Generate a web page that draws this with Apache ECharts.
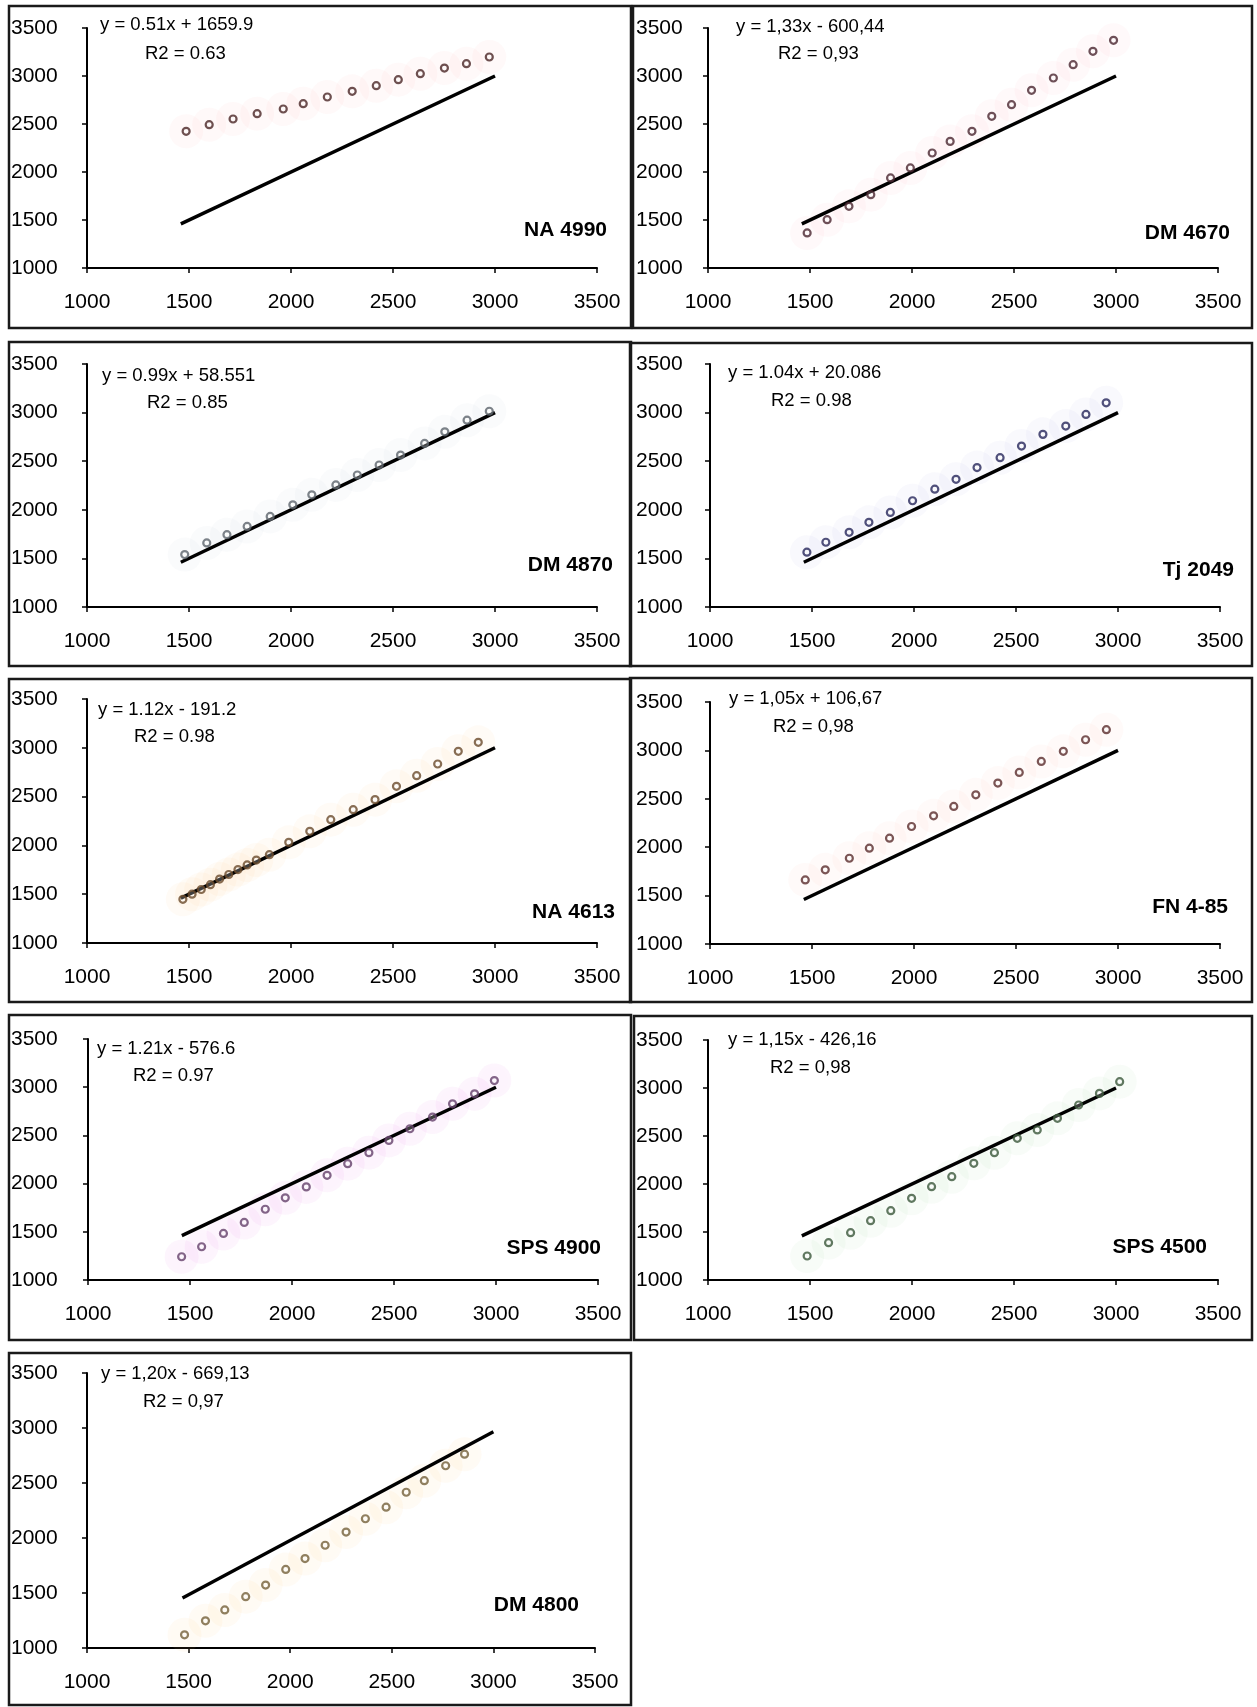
<!DOCTYPE html>
<html><head><meta charset="utf-8">
<script src="https://cdn.jsdelivr.net/npm/echarts@6/dist/echarts.min.js"></script>
<style>html,body{margin:0;padding:0;background:#fff}#c{width:1257px;height:1707px}</style>
</head><body><div id="c"></div>
<script>
// ---------- data ----------
const panelNames = ['NA 4990','DM 4670','DM 4870','Tj 2049','NA 4613','FN 4-85','SPS 4900','SPS 4500','DM 4800'];
const equations = ['y = 0.51x + 1659.9','y = 1,33x - 600,44','y = 0.99x + 58.551','y = 1.04x + 20.086','y = 1.12x - 191.2','y = 1,05x + 106,67','y = 1.21x - 576.6','y = 1,15x - 426,16','y = 1,20x - 669,13'];
const r2Labels = ['R2 = 0.63','R2 = 0,93','R2 = 0.85','R2 = 0.98','R2 = 0.98','R2 = 0,98','R2 = 0.97','R2 = 0,98','R2 = 0,97'];
const tickValues = [1000,1500,2000,2500,3000,3500];

const na4990X = [1486,1599,1716,1834,1962,2060,2178,2300,2418,2526,2634,2752,2860,2972];
const na4990Y = [2424,2493,2552,2608,2656,2712,2781,2840,2899,2962,3024,3083,3128,3198];

const dm4670X = [1486,1584,1691,1798,1895,1992,2099,2187,2294,2391,2488,2586,2693,2790,2887,2988];
const dm4670Y = [1365,1503,1642,1764,1938,2042,2198,2319,2424,2580,2701,2851,2979,3118,3257,3372];

const dm4870X = [1479,1587,1686,1785,1898,2009,2102,2220,2325,2432,2537,2655,2754,2863,2972];
const dm4870Y = [1539,1659,1744,1829,1932,2051,2154,2256,2358,2461,2563,2683,2802,2922,3014];

const tj2049X = [1475,1568,1682,1779,1884,1993,2102,2206,2309,2422,2527,2632,2744,2843,2942];
const tj2049Y = [1564,1666,1768,1871,1973,2093,2212,2314,2434,2536,2656,2776,2861,2981,3101];

const na4613X = [1470,1515,1560,1605,1650,1695,1740,1785,1830,1894,1989,2092,2195,2305,2412,2517,2616,2719,2820,2918];
const na4613Y = [1448,1500,1548,1598,1655,1702,1752,1800,1850,1905,2031,2144,2264,2366,2469,2605,2714,2834,2964,3056];

const fn485X = [1467,1565,1683,1781,1880,1988,2096,2195,2303,2411,2516,2624,2732,2841,2943];
const fn485Y = [1662,1766,1886,1990,2093,2214,2324,2421,2541,2662,2772,2886,2990,3110,3214];

const sps4900X = [1459,1557,1664,1766,1869,1967,2070,2172,2273,2377,2475,2578,2689,2787,2895,2992];
const sps4900Y = [1241,1345,1483,1597,1734,1852,1966,2086,2207,2321,2448,2569,2690,2828,2931,3069];

const sps4500X = [1486,1591,1699,1797,1896,1998,2096,2195,2303,2404,2516,2614,2713,2817,2919,3018];
const sps4500Y = [1250,1389,1493,1618,1722,1851,1972,2076,2215,2326,2476,2563,2684,2823,2944,3066];

const dm4800X = [1480,1583,1678,1781,1879,1978,2073,2172,2275,2370,2472,2571,2660,2765,2858];
const dm4800Y = [1120,1247,1346,1467,1572,1714,1813,1934,2054,2175,2280,2416,2521,2657,2762];

const refLineX = [1460,3000];
const refLineY = [1460,3000];
const dm4800LineX = [1470,3000];
const dm4800LineY = [1455,2965];

const seriesX = [na4990X,dm4670X,dm4870X,tj2049X,na4613X,fn485X,sps4900X,sps4500X,dm4800X];
const seriesY = [na4990Y,dm4670Y,dm4870Y,tj2049Y,na4613Y,fn485Y,sps4900Y,sps4500Y,dm4800Y];
const lineX = [refLineX,refLineX,refLineX,refLineX,refLineX,refLineX,refLineX,refLineX,dm4800LineX];
const lineY = [refLineY,refLineY,refLineY,refLineY,refLineY,refLineY,refLineY,refLineY,dm4800LineY];

// ---------- layout & style ----------
const FONT = '"Liberation Sans", Arial, sans-serif';
const layout = [
  {box:[9,6,622,322],   grid:[87,28,510,240],  ym:76, eq:[100,15],  r2:[145,44],  nm:[607,219]},
  {box:[633,6,619,322], grid:[708,28,510,240], ym:72, eq:[736,17],  r2:[778,44],  nm:[1230,222]},
  {box:[9,342,622,324], grid:[87,364,510,243], ym:76, eq:[102,366], r2:[147,393], nm:[613,554]},
  {box:[630,343,622,323],grid:[710,364,510,243],ym:74, eq:[728,363], r2:[771,391], nm:[1234,559]},
  {box:[9,679,622,323], grid:[87,699,510,244], ym:76, eq:[98,700],  r2:[134,727], nm:[615,901]},
  {box:[630,678,622,324],grid:[710,702,510,242],ym:74, eq:[729,689], r2:[773,717], nm:[1228,896]},
  {box:[9,1015,622,325],grid:[88,1039,510,241],ym:77, eq:[97,1039], r2:[133,1066],nm:[601,1237]},
  {box:[634,1016,618,324],grid:[708,1040,510,240],ym:72,eq:[728,1030],r2:[770,1058],nm:[1207,1236]},
  {box:[9,1353,622,352],grid:[87,1373,508,275],ym:76, eq:[101,1364],r2:[143,1392],nm:[579,1594]}
];
const markerColors = ['#4a2626','#4a2630','#5c646c','#26265a','#6a4a2a','#5a2c2c','#64406a','#3a563a','#74603a'];
const haloColors = ['rgba(255,140,140,0.07)','rgba(255,140,160,0.07)','rgba(170,180,195,0.07)','rgba(150,150,225,0.07)','rgba(255,190,110,0.08)','rgba(255,160,150,0.07)','rgba(230,120,230,0.09)','rgba(140,200,140,0.08)','rgba(250,200,110,0.09)'];

const grids=[], xAxes=[], yAxes=[], series=[], titles=[], graphics=[];
const plain = v => String(v);
layout.forEach((L,i)=>{
  grids.push({left:L.grid[0], top:L.grid[1], width:L.grid[2], height:L.grid[3], containLabel:false});
  xAxes.push({gridIndex:i, type:'value', min:tickValues[0], max:tickValues[tickValues.length-1], interval:500,
    axisLine:{show:true, onZero:false, lineStyle:{color:'#000', width:2}},
    axisTick:{show:true, length:5, lineStyle:{color:'#000', width:1.5}},
    axisLabel:{fontSize:21, color:'#000', fontFamily:FONT, margin:24, formatter:plain},
    splitLine:{show:false}});
  yAxes.push({gridIndex:i, type:'value', min:tickValues[0], max:tickValues[tickValues.length-1], interval:500,
    axisLine:{show:true, onZero:false, lineStyle:{color:'#000', width:2}},
    axisTick:{show:true, length:5, lineStyle:{color:'#000', width:1.5}},
    axisLabel:{fontSize:21, color:'#000', fontFamily:FONT, margin:L.ym, align:'left', formatter:plain},
    splitLine:{show:false}});
  const pts = seriesX[i].map((x,k)=>[x, seriesY[i][k]]);
  series.push({type:'scatter', xAxisIndex:i, yAxisIndex:i, data:pts, symbol:'circle', symbolSize:34, silent:true, z:1,
    itemStyle:{color:haloColors[i], shadowBlur:20, shadowColor:haloColors[i]}});
  series.push({type:'line', xAxisIndex:i, yAxisIndex:i, data:lineX[i].map((x,k)=>[x, lineY[i][k]]), showSymbol:false, silent:true, z:2,
    lineStyle:{color:'#000', width:3.4}});
  series.push({type:'scatter', xAxisIndex:i, yAxisIndex:i, data:pts, symbol:'circle', symbolSize:7, silent:true, z:3,
    itemStyle:{color:'rgba(255,255,255,0.3)', borderColor:markerColors[i], borderWidth:2.2}});
  titles.push({text:equations[i], left:L.eq[0], top:L.eq[1], padding:0, textStyle:{fontSize:18.5, fontWeight:'normal', color:'#000', fontFamily:FONT, lineHeight:19}});
  titles.push({text:r2Labels[i], left:L.r2[0], top:L.r2[1], padding:0, textStyle:{fontSize:18.5, fontWeight:'normal', color:'#000', fontFamily:FONT, lineHeight:19}});
  titles.push({text:panelNames[i], right:1257-L.nm[0], top:L.nm[1], padding:0, textStyle:{fontSize:21, fontWeight:'bold', color:'#000', fontFamily:FONT, lineHeight:22}});
  graphics.push({type:'rect', shape:{x:L.box[0], y:L.box[1], width:L.box[2], height:L.box[3]}, style:{fill:'none', stroke:'#1a1a1a', lineWidth:2.5}, z:100});
});

const chart = echarts.init(document.getElementById('c'), null, {renderer:'canvas', width:1257, height:1707});
chart.setOption({
  animation:false,
  backgroundColor:'#fff',
  title:titles,
  grid:grids, xAxis:xAxes, yAxis:yAxes, series:series,
  graphic:graphics
});
</script>
</body></html>
